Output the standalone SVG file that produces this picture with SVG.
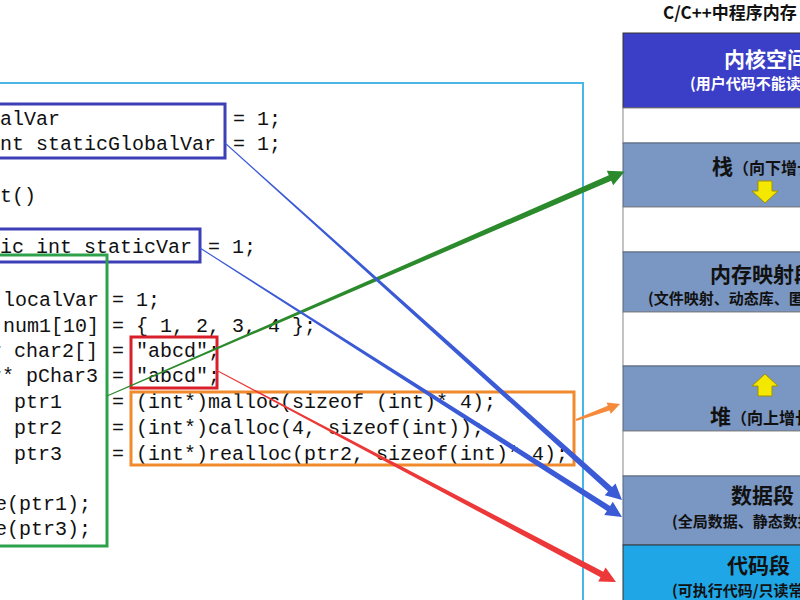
<svg xmlns="http://www.w3.org/2000/svg" width="800" height="600" viewBox="0 0 800 600">
<style>
.c{font-family:"Liberation Mono",monospace;font-size:20px;fill:#111}
.h{font-family:"Noto Sans CJK SC",sans-serif;font-weight:bold;fill:#111}
.b{fill:none;stroke-width:3}
.seg{fill:#7a96c2;stroke:#55657f;stroke-width:1}
</style>
<rect width="800" height="600" fill="#fff"/>
<g id="code">
<rect x="-5" y="83" width="588" height="530" fill="none" stroke="#49b6e6" stroke-width="2"/>
<text class="c" x="0" y="125">alVar</text><text class="c" x="233" y="125">= 1;</text>
<text class="c" x="0" y="150">nt staticGlobalVar</text><text class="c" x="233" y="150">= 1;</text>
<text class="c" x="0" y="202">t()</text>
<text class="c" x="0" y="253">ic int staticVar</text><text class="c" x="208" y="253">= 1;</text>
<text class="c" x="3" y="306">localVar</text><text class="c" x="112" y="306">= 1;</text>
<text class="c" x="3" y="332">num1[10]</text><text class="c" x="112" y="332">= { 1, 2, 3, 4 };</text>
<text class="c" x="-10" y="357">r char2[]</text><text class="c" x="112" y="357">= "abcd";</text>
<text class="c" x="-10" y="382">r* pChar3</text><text class="c" x="112" y="382">= "abcd";</text>
<text class="c" x="-10" y="408">* ptr1</text><text class="c" x="112" y="408">= (int*)malloc(sizeof (int)* 4);</text>
<text class="c" x="-10" y="434">* ptr2</text><text class="c" x="112" y="434">= (int*)calloc(4, sizeof(int));</text>
<text class="c" x="-10" y="460">* ptr3</text><text class="c" x="112" y="460">= (int*)realloc(ptr2, sizeof(int)* 4);</text>
<text class="c" x="-5" y="510">e(ptr1);</text>
<text class="c" x="-5" y="535">e(ptr3);</text>
<rect class="b" x="-5" y="104" width="230" height="54" stroke="#3c3fb5"/>
<rect class="b" x="-5" y="229" width="205" height="33" stroke="#3c3fb5"/>
<rect class="b" x="-5" y="255" width="112" height="291" stroke="#2da24a"/>
<rect class="b" x="131" y="337" width="86" height="51" stroke="#d9202a"/>
<rect class="b" x="131" y="392" width="443" height="73" stroke="#f08a2c"/>
</g>
<g id="memory">
<text class="h" x="663" y="19" font-size="17">C/C++中程序内存</text>
<rect x="623" y="33" width="200" height="75" fill="#3b3ec6" stroke="#333"/>
<text class="h" x="724" y="67" font-size="21" style="fill:#fff">内核空间</text>
<text class="h" x="690" y="89" font-size="15" style="fill:#fff">(用户代码不能读写)</text>
<rect x="623" y="108" width="200" height="35" fill="#fff" stroke="#888"/>
<rect class="seg" x="623" y="143" width="200" height="64"/>
<text class="h" x="712" y="174" font-size="21">栈<tspan font-size="16">（向下增长）</tspan></text>
<polygon points="758,181 772,181 772,191 778,191 765,203 752,191 758,191" fill="#f5e800" stroke="#a09000"/>
<rect x="623" y="207" width="200" height="45" fill="#fff" stroke="#888"/>
<rect class="seg" x="623" y="252" width="200" height="60"/>
<text class="h" x="710" y="282" font-size="21">内存映射段</text>
<text class="h" x="648" y="304" font-size="15">(文件映射、动态库、匿名映射)</text>
<rect x="623" y="312" width="200" height="54" fill="#fff" stroke="#888"/>
<rect class="seg" x="623" y="366" width="200" height="65"/>
<polygon points="765,374 778,386 772,386 772,396 758,396 758,386 752,386" fill="#f5e800" stroke="#a09000"/>
<text class="h" x="710" y="424" font-size="21">堆<tspan font-size="16">（向上增长）</tspan></text>
<rect x="623" y="431" width="200" height="45" fill="#fff" stroke="#888"/>
<rect class="seg" x="623" y="476" width="200" height="69"/>
<text class="h" x="731" y="503" font-size="21">数据段</text>
<text class="h" x="672" y="527" font-size="15">(全局数据、静态数据)</text>
<rect x="623" y="545" width="200" height="60" fill="#1fa6e6" stroke="#333"/>
<text class="h" x="727" y="573" font-size="21">代码段</text>
<text class="h" x="672" y="596" font-size="15">(可执行代码/只读常量)</text>
</g>
<g id="connectors">
<polygon points="107.2,396.5 106.8,395.5 608.8,175.2 606.8,170.7 624.7,171.6 613.2,185.3 611.2,180.8" fill="#2b8a2b"/>
<polygon points="224.7,143.4 225.3,142.6 612.1,487.1 615.5,483.4 622,500 604.7,495.2 608.1,491.5" fill="#3a5ad6"/>
<polygon points="199.7,248.4 200.3,247.6 610.1,505.9 612.8,501.7 622,517 604.2,515.1 606.9,510.9" fill="#3a5ad6"/>
<polygon points="215.8,370.4 216.2,369.6 603.3,571.8 605.6,567.4 616,582 598.2,581.6 600.5,577.2" fill="#ec3838"/>
<polygon points="576.3,420.9 575.7,419.1 607.8,405.7 606.6,402.5 620,404 610.8,413.7 609.6,410.5" fill="#f58a3a"/>
</g>
</svg>
